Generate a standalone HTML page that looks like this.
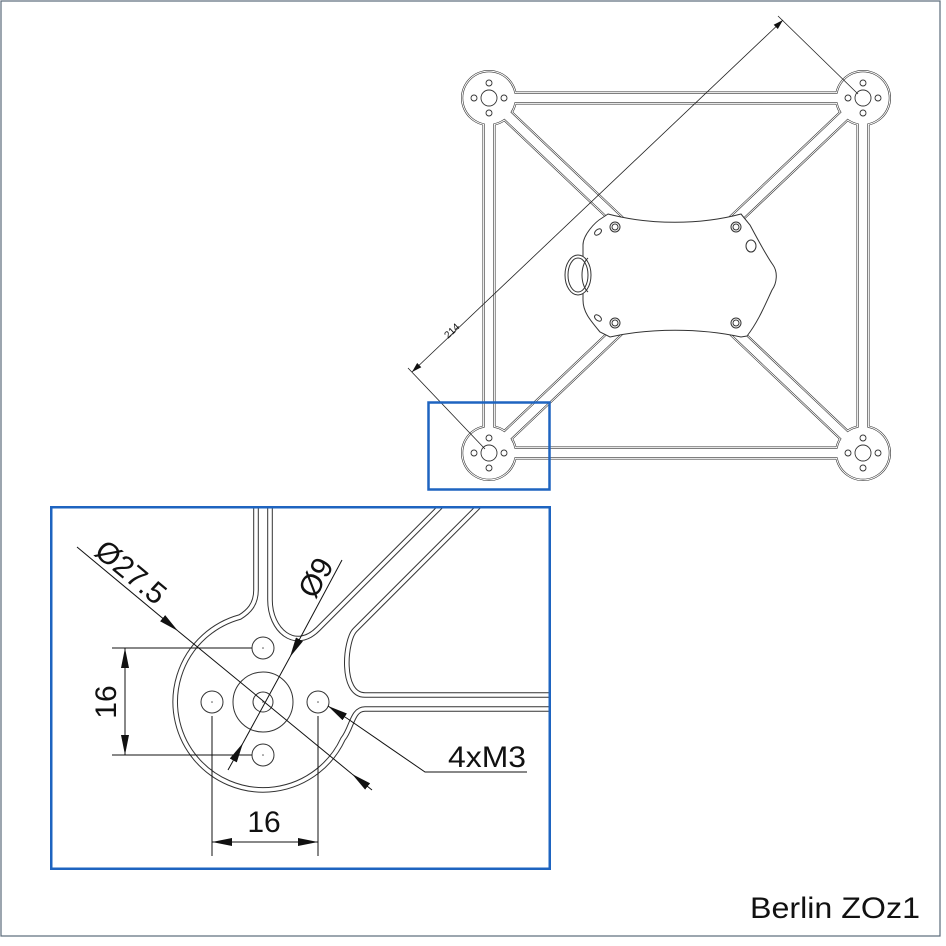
<!DOCTYPE html>
<html><head><meta charset="utf-8"><style>
html,body{margin:0;padding:0;background:#fff;}
svg{display:block;}
text{font-family:"Liberation Sans",sans-serif;fill:#111;}
</style></head><body>
<svg width="946" height="946" viewBox="0 0 946 946" xmlns="http://www.w3.org/2000/svg">
<defs>
<marker id="ar" viewBox="0 0 10 6" refX="10" refY="3" markerWidth="10" markerHeight="6" orient="auto-start-reverse" markerUnits="userSpaceOnUse"><path d="M0,0 L10,3 L0,6 Z" fill="#111"/></marker>
<marker id="aL" viewBox="0 0 20 8" refX="20" refY="4" markerWidth="20" markerHeight="8" orient="auto-start-reverse" markerUnits="userSpaceOnUse"><path d="M0,0 L20,4 L0,8 Z" fill="#111"/></marker>
<clipPath id="dc"><rect x="52" y="508" width="497" height="360"/></clipPath>
<g id="beams">
<line x1="489" y1="98" x2="863" y2="98"/>
<line x1="489" y1="453" x2="863" y2="453"/>
<line x1="489" y1="98" x2="489" y2="453"/>
<line x1="863" y1="98" x2="863" y2="453"/>
<line x1="489" y1="98" x2="863" y2="453"/>
<line x1="863" y1="98" x2="489" y2="453"/>
</g>
<g id="dp" fill="none">
<path fill="none" d="M256,500 L256,590 C256,605 248,612 240,617 A88,88 0 1 0 343,739 C352,728 352,709 365,709 L560,709"/>
<path fill="none" d="M560,695 L365,695 C340,695 345,640 355,630 L483,502"/>
<path fill="none" d="M445,502 L318,629 C295,652 270,630 270,600 L270,500"/>
</g>
</defs>
<rect x="1" y="1" width="939" height="935" fill="none" stroke="#5a6a7a" stroke-width="1.2"/>

<!-- top frame -->
<g stroke-linecap="round" stroke-linejoin="round">
<use href="#beams" stroke="#333" stroke-width="13"/>
<g fill="#333"><circle cx="489" cy="98" r="28"/><circle cx="863" cy="98" r="28"/><circle cx="489" cy="453" r="28"/><circle cx="863" cy="453" r="28"/></g>
<use href="#beams" stroke="#fff" stroke-width="11.8"/>
<g fill="#fff"><circle cx="489" cy="98" r="27.4"/><circle cx="863" cy="98" r="27.4"/><circle cx="489" cy="453" r="27.4"/><circle cx="863" cy="453" r="27.4"/></g>
<use href="#beams" stroke="#333" stroke-width="10"/>
<g fill="#333"><circle cx="489" cy="98" r="26.4"/><circle cx="863" cy="98" r="26.4"/><circle cx="489" cy="453" r="26.4"/><circle cx="863" cy="453" r="26.4"/></g>
<use href="#beams" stroke="#fff" stroke-width="8.8"/>
<g fill="#fff"><circle cx="489" cy="98" r="25.8"/><circle cx="863" cy="98" r="25.8"/><circle cx="489" cy="453" r="25.8"/><circle cx="863" cy="453" r="25.8"/></g>
</g>
<g fill="none" stroke="#333" stroke-width="0.9">
<g id="ph"><circle cx="489" cy="98" r="8"/><circle cx="489" cy="83" r="3"/><circle cx="489" cy="113" r="3"/><circle cx="474" cy="98" r="3"/><circle cx="504" cy="98" r="3"/></g>
<use href="#ph" x="374"/><use href="#ph" y="355"/><use href="#ph" x="374" y="355"/>
</g>
<!-- plate -->
<path d="M608,214 C650,225 700,225 741,214 L750,225 C758,240 768,258 773,265 C778,272 777,283 772,290 C765,305 758,322 747,336 L741,337 C700,328 650,328 610,337 L600,332 C590,320 583,312 583,300 L583,245 C583,235 595,222 602,218 Z" fill="#fff" stroke="#333" stroke-width="1"/>
<g fill="none" stroke="#333" stroke-width="1">
<ellipse cx="578" cy="275" rx="13" ry="20" fill="#fff"/><ellipse cx="578" cy="275" rx="10" ry="17"/>
<path d="M588,258 C580,265 580,285 588,292"/>
<circle cx="615" cy="227" r="5"/><circle cx="615" cy="227" r="3"/>
<circle cx="736" cy="227" r="5"/><circle cx="736" cy="227" r="3"/>
<circle cx="615" cy="323" r="5"/><circle cx="615" cy="323" r="3"/>
<circle cx="736" cy="323" r="5"/><circle cx="736" cy="323" r="3"/>
<ellipse cx="598" cy="232" rx="4" ry="2.5" transform="rotate(-40 598 232)"/>
<ellipse cx="598" cy="318" rx="4" ry="2.5" transform="rotate(40 598 318)"/>
<ellipse cx="751" cy="246" rx="5" ry="6"/>
</g>
<!-- 214 dimension -->
<g stroke="#222" stroke-width="0.8" fill="none">
<line x1="778" y1="16" x2="858" y2="94"/>
<line x1="408" y1="368" x2="485" y2="449"/>
<line x1="412" y1="372" x2="783" y2="20" marker-start="url(#ar)" marker-end="url(#ar)"/>
</g>
<text x="448" y="339" font-size="10" transform="rotate(-43 448 339)">214</text>

<rect x="428.5" y="402.5" width="121" height="87" fill="none" stroke="#1e64c0" stroke-width="2.5"/>

<!-- detail -->
<g clip-path="url(#dc)" fill="none">
<use href="#dp" fill="none" stroke="#333" stroke-width="5.6" stroke-linejoin="round"/>
<use href="#dp" fill="none" stroke="#fff" stroke-width="3.6" stroke-linejoin="round"/>
</g>
<g fill="none" stroke="#333" stroke-width="1">
<circle cx="263" cy="648" r="11"/><circle cx="263" cy="755" r="11"/><circle cx="212" cy="702" r="11"/><circle cx="318" cy="702" r="11"/>
<circle cx="263" cy="702" r="10"/><circle cx="263" cy="702" r="30"/>
</g>
<g fill="#555"><circle cx="263" cy="648" r="0.8"/><circle cx="263" cy="755" r="0.8"/><circle cx="212" cy="702" r="0.8"/><circle cx="318" cy="702" r="0.8"/><circle cx="263" cy="702" r="0.8"/></g>
<g stroke="#111" stroke-width="1" fill="none">
<line x1="77" y1="547" x2="178" y2="631" marker-end="url(#aL)"/>
<line x1="178" y1="631" x2="352" y2="774"/>
<line x1="372" y1="790" x2="352" y2="774" marker-end="url(#aL)"/>
<line x1="342" y1="560" x2="290" y2="657" marker-end="url(#aL)"/>
<line x1="290" y1="657" x2="243" y2="743"/>
<line x1="228" y1="770" x2="243" y2="743" marker-end="url(#aL)"/>
<line x1="112" y1="648" x2="252" y2="648"/>
<line x1="112" y1="755" x2="252" y2="755"/>
<line x1="125" y1="648" x2="125" y2="755" marker-start="url(#aL)" marker-end="url(#aL)"/>
<line x1="212" y1="716" x2="212" y2="856"/>
<line x1="318" y1="716" x2="318" y2="856"/>
<line x1="212" y1="842" x2="318" y2="842" marker-start="url(#aL)" marker-end="url(#aL)"/>
<polyline points="527,772 425,772 348,719"/>
<line x1="348" y1="719" x2="328" y2="706" marker-end="url(#aL)"/>
</g>
<text x="93" y="554" font-size="30" transform="rotate(39.5 93 554)">Ø27.5</text>
<text x="315" y="600" font-size="30" transform="rotate(-61 315 600)">Ø9</text>
<text x="116" y="702" font-size="30" text-anchor="middle" transform="rotate(-90 116 702)">16</text>
<text x="264" y="832" font-size="30" text-anchor="middle">16</text>
<text x="448" y="767" font-size="30" textLength="78" lengthAdjust="spacingAndGlyphs">4xM3</text>

<rect x="51.25" y="507.25" width="498.5" height="361.5" fill="none" stroke="#1e64c0" stroke-width="2.5"/>

<text x="750" y="918" font-size="30" textLength="170" lengthAdjust="spacingAndGlyphs">Berlin ZOz1</text>
</svg>
</body></html>
